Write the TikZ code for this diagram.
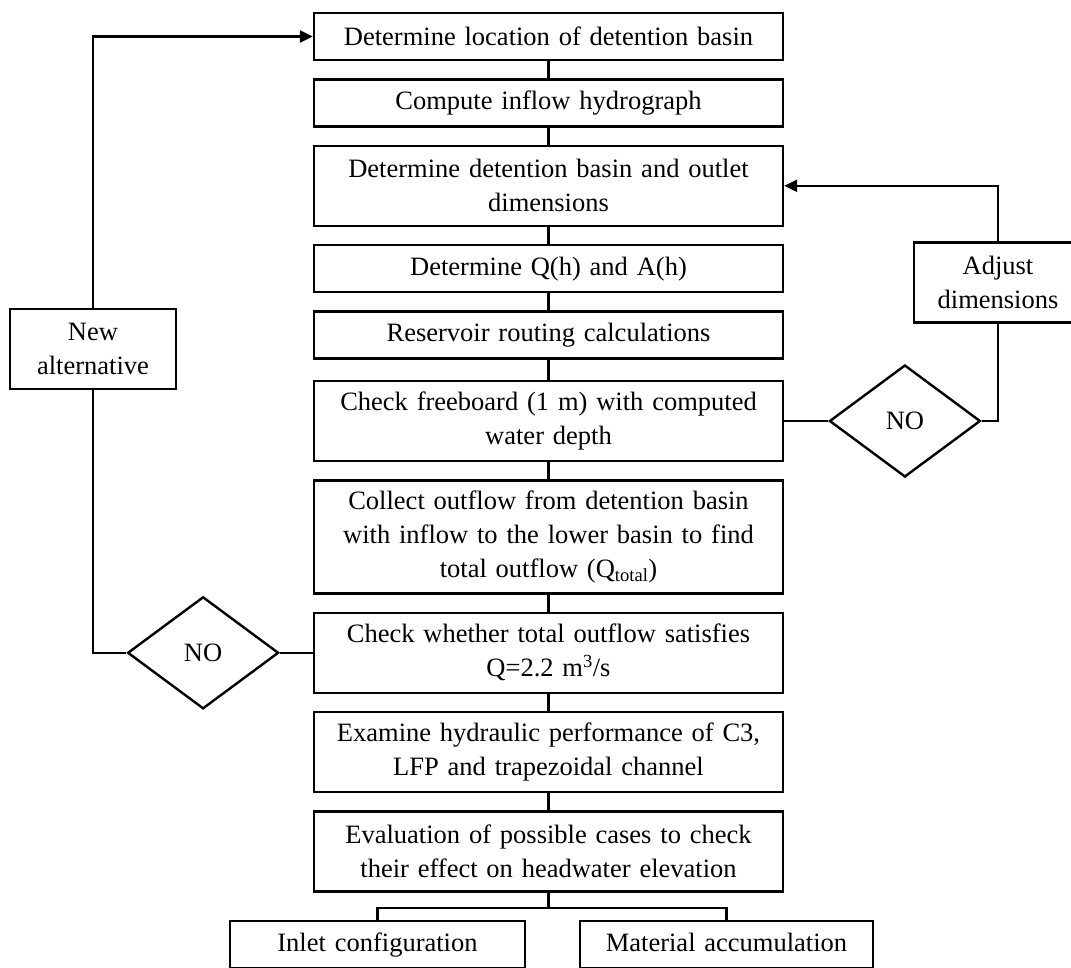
\documentclass[tikz,border=0pt]{standalone}
\usepackage{fontspec}
\setmainfont{Liberation Serif}
\usetikzlibrary{arrows.meta,positioning,shapes.geometric}

\begin{document}
\begin{tikzpicture}[x=1pt,y=1pt,node distance=17pt and 30pt,>={Triangle[length=13pt,width=12pt]},
 box/.style={draw,line width=2.4pt,align=center,text width=445pt,inner xsep=12pt,inner ysep=2pt,minimum height=47pt,font=\fontsize{26.5}{34}\selectfont},
 two/.style={minimum height=80pt},
 three/.style={minimum height=113pt},
 leaf/.style={text height=19pt,text depth=6pt},
 dec/.style={draw,diamond,line width=2.4pt,minimum width=151pt,minimum height=112pt,inner sep=0pt,font=\fontsize{26.5}{34}\selectfont},
 line/.style={line width=2.4pt}]
\useasboundingbox (0,0) rectangle (1071,-967);
% main column
\node[box] (loc) at (548.5,-36.5) {Determine location of detention basin};
\node[box,below=of loc] (inflow) {Compute inflow hydrograph};
\node[box,two,below=of inflow] (dims) {Determine detention basin and outlet\\dimensions};
\node[box,below=of dims] (qa) {Determine Q(h) and A(h)};
\node[box,below=of qa] (routing) {Reservoir routing calculations};
\node[box,two,below=20pt of routing] (freeb) {Check freeboard (1 m) with computed\\water depth};
\node[box,three,below=of freeb] (collect) {Collect outflow from detention basin\\with inflow to the lower basin to find\\total outflow (Q\textsubscript{total})};
\node[box,two,below=of collect] (check) {Check whether total outflow satisfies\\Q=2.2 m\textsuperscript{3}/s};
\node[box,two,below=of check] (hydr) {Examine hydraulic performance of C3,\\LFP and trapezoidal channel};
\node[box,two,below=of hydr] (eval) {Evaluation of possible cases to check\\their effect on headwater elevation};
\node[box,leaf,text width=271pt] (inlet) at (377.5,-944.5) {Inlet configuration};
\node[box,leaf,text width=269pt] (mat) at (726.5,-944.5) {Material accumulation};
% loops
\node[dec,right=44pt of freeb] (no1) {NO};
\node[box,two,text width=144pt] (adjust) at (998,-282.5) {Adjust\\dimensions};
\node[dec,left=33pt of check] (no2) {NO};
\node[box,two,text width=142pt] (newalt) at (93,-349) {New\\alternative};
\foreach \a/\b in {loc/inflow,inflow/dims,dims/qa,qa/routing,routing/freeb,freeb/collect,collect/check,check/hydr,hydr/eval}
 \draw[line] (\a) -- (\b);
\draw[line] (eval.south) -- ++(0,-15) coordinate (split);
\draw[line] (split) -| (inlet.north);
\draw[line] (split) -| (mat.north);
\draw[line] (freeb.east) -- (no1.west);
\draw[line] (no1.east) -| (adjust.south);
\draw[line,->] (adjust.north) |- (dims.east);
\draw[line] (check.west) -- (no2.east);
\draw[line] (no2.west) -| (newalt.south);
\draw[line,->] (newalt.north) |- (loc.west);
\end{tikzpicture}
\end{document}
